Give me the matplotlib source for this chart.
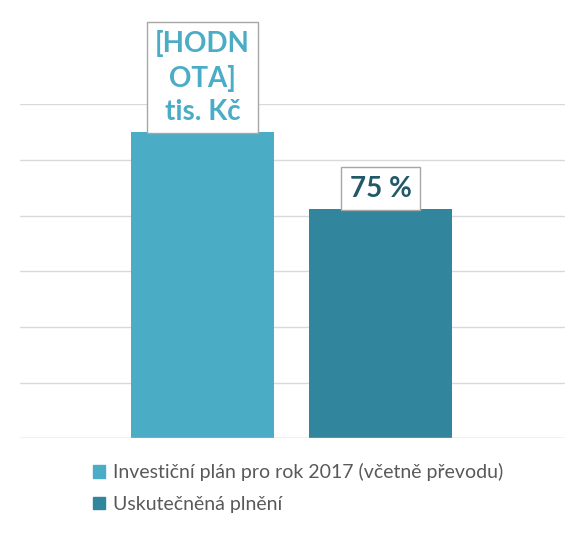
import matplotlib.pyplot as plt
from matplotlib.patches import Patch

plt.rcParams['font.family'] = ['Lato', 'DejaVu Sans']

series = ['Investiční plán pro rok 2017 (včetně převodu)', 'Uskutečněná plnění']
values = [5.5, 4.125]
labels = ['[HODN\nOTA]\ntis. Kč', '75 %']
colors = ['#4BACC6', '#31859C']
label_colors = ['#4BACC6', '#215968']

fig = plt.figure(figsize=(5.83, 5.37), dpi=100)
ax = fig.add_axes([0.034, 0.184, 0.935, 0.622])
pos = [0.335, 0.662]
ax.bar(pos, values, width=0.262, color=colors, zorder=2)
ax.set_xlim(0, 1)
ax.set_ylim(0, 6)
ax.set_yticks(range(0, 7))
ax.grid(axis='y', color='#D9D9D9', linewidth=1, zorder=0)
ax.tick_params(left=False, bottom=False, labelleft=False, labelbottom=False)
for s in ax.spines.values():
    s.set_visible(False)
ax.axhline(0, color='#D9D9D9', linewidth=1)

for p, v, t, c in zip(pos, values, labels, label_colors):
    ax.annotate(t, (p, v), xytext=(0, 5), textcoords='offset points', ha='center', va='bottom',
                fontsize=20, fontweight='bold', color=c, linespacing=1.35, annotation_clip=False,
                bbox=dict(boxstyle='square,pad=0.3', fc='white', ec='#A6A6A6'))

handles = [Patch(color=c) for c in colors]
fig.legend(handles, series, loc='upper left', bbox_to_anchor=(0.13, 0.17), frameon=False,
           fontsize=14, labelcolor='#595959', handlelength=0.6, handleheight=0.6,
           handletextpad=0.4, labelspacing=0.75)
fig.savefig('out.png', dpi=100)
